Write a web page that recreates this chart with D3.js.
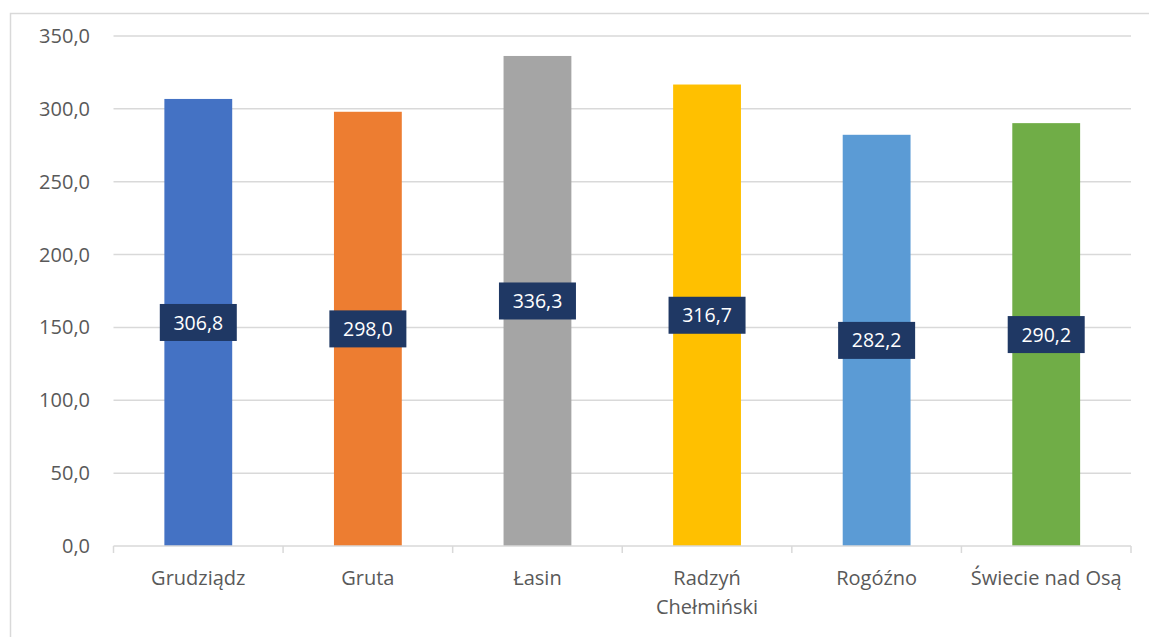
<!DOCTYPE html>
<html>
<head>
<meta charset="utf-8">
<script src="https://cdn.jsdelivr.net/npm/d3@7"></script>
<style>
  body { margin: 0; background: #fff; }
  svg { display: block; font-family: "Open Sans", "Noto Sans", sans-serif; }
</style>
</head>
<body>
<svg id="chart" width="1149" height="637"></svg>
<script>
const categories = ["Grudziądz", "Gruta", "Łasin", "Radzyń Chełmiński", "Rogóźno", "Świecie nad Osą"];
const values = [306.8, 298.0, 336.3, 316.7, 282.2, 290.2];
const colors = ["#4472C4", "#ED7D31", "#A5A5A5", "#FFC000", "#5B9BD5", "#70AD47"];
const yTicks = [0, 50, 100, 150, 200, 250, 300, 350];

const svg = d3.select("#chart");
const fmt = v => d3.format(".1f")(v).replace(".", ",");

// ramka wykresu
svg.append("rect")
    .attr("x", 10.5).attr("y", 13.5)
    .attr("width", 1150).attr("height", 640)
    .attr("fill", "none")
    .attr("stroke", "#d9d9d9")
    .attr("stroke-width", 1.5);

const x = d3.scaleBand()
    .domain(categories)
    .range([113.5, 1131])
    .paddingInner(0.6)
    .paddingOuter(0.3);

const y = d3.scaleLinear()
    .domain([0, 350])
    .range([546, 36]);

// linie siatki
svg.append("g")
    .selectAll("line")
    .data(yTicks.slice(1))
    .enter()
    .append("line")
    .attr("x1", 113.5).attr("x2", 1131)
    .attr("y1", d => y(d)).attr("y2", d => y(d))
    .attr("stroke", "#d9d9d9")
    .attr("stroke-width", 1.5);

// etykiety osi Y
svg.append("g")
    .selectAll("text")
    .data(yTicks)
    .enter()
    .append("text")
    .attr("x", 90)
    .attr("y", d => y(d))
    .attr("dy", "0.35em")
    .attr("text-anchor", "end")
    .attr("fill", "#595959")
    .attr("font-size", "20px")
    .text(fmt);

// słupki
svg.append("g")
    .selectAll("rect")
    .data(values)
    .enter()
    .append("rect")
    .attr("x", (d, i) => x(categories[i]))
    .attr("y", d => y(d))
    .attr("width", x.bandwidth())
    .attr("height", d => y(0) - y(d))
    .attr("fill", (d, i) => colors[i]);

// oś X
const start = 113.5;
svg.append("line")
    .attr("x1", start).attr("x2", 1131)
    .attr("y1", y(0)).attr("y2", y(0))
    .attr("stroke", "#d9d9d9")
    .attr("stroke-width", 1.5);

svg.append("g")
    .selectAll("line")
    .data(d3.range(categories.length + 1))
    .enter()
    .append("line")
    .attr("x1", i => start + i * (1131 - start) / categories.length)
    .attr("x2", i => start + i * (1131 - start) / categories.length)
    .attr("y1", y(0)).attr("y2", y(0) + 7)
    .attr("stroke", "#d9d9d9")
    .attr("stroke-width", 1.5);

// etykiety kategorii (Radzyń Chełmiński w dwóch liniach)
const catLabels = svg.append("g")
    .selectAll("text")
    .data(categories)
    .enter()
    .append("text")
    .attr("text-anchor", "middle")
    .attr("fill", "#595959")
    .attr("font-size", "20px");

catLabels.each(function(d) {
    const cx = x(d) + x.bandwidth() / 2;
    const lines = d === "Radzyń Chełmiński" ? ["Radzyń", "Chełmiński"] : [d];
    lines.forEach((t, k) => {
        d3.select(this).append("tspan")
            .attr("x", cx)
            .attr("y", 585 + k * 29)
            .text(t);
    });
});

// etykiety danych
const labels = svg.append("g")
    .selectAll("g")
    .data(values)
    .enter()
    .append("g")
    .attr("transform", (d, i) => `translate(${x(categories[i]) + x.bandwidth() / 2},${y(d / 2)})`);

labels.append("rect")
    .attr("x", -38.5).attr("y", -18.5)
    .attr("width", 77).attr("height", 37)
    .attr("fill", "#1F3864");

labels.append("text")
    .attr("dy", "0.36em")
    .attr("text-anchor", "middle")
    .attr("fill", "#fff")
    .attr("font-size", "19.5px")
    .text(fmt);
</script>
</body>
</html>
